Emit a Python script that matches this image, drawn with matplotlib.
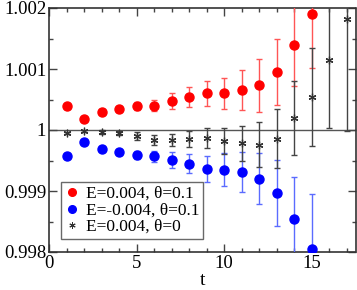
import numpy as np
import matplotlib
matplotlib.use('Agg')
import matplotlib.pyplot as plt
from matplotlib.lines import Line2D
from matplotlib.ticker import MultipleLocator, FixedFormatter, FixedLocator

# data
t_red = [1, 2, 3, 4, 5, 6, 7, 8, 9, 10, 11, 12, 13, 14, 15]
y_red = [1.00039, 1.00018, 1.00030, 1.00035, 1.00039, 1.00040, 1.00047, 1.00054,
         1.00060, 1.00060, 1.00065, 1.00073, 1.00095, 1.00140, 1.00190]
e_red = [0.00004, 0.00004, 0.00004, 0.00005, 0.00007, 0.00009, 0.00013, 0.00016,
         0.00021, 0.00026, 0.00033, 0.00043, 0.00054, 0.00068, 0.00089]

t_blue = [1, 2, 3, 4, 5, 6, 7, 8, 9, 10, 11, 12, 13, 14, 15]
y_blue = [0.99958, 0.99981, 0.99969, 0.99964, 0.99959, 0.99957, 0.99951, 0.99945,
          0.99936, 0.99935, 0.99931, 0.99920, 0.99897, 0.99854, 0.99805]
e_blue = [0.00004, 0.00004, 0.00004, 0.00005, 0.00007, 0.00009, 0.00013, 0.00016,
          0.00021, 0.00027, 0.00033, 0.00042, 0.00054, 0.00069, 0.00090]

t_star = [1, 2, 3, 4, 5, 6, 7, 8, 9, 10, 11, 12, 13, 14, 15, 16, 17]
y_star = [0.99995, 0.99998, 0.99997, 0.99995, 0.99990, 0.99984, 0.99983, 0.99985,
          0.99987, 0.99982, 0.99978, 0.99976, 0.99986, 1.00020, 1.00054, 1.00114, 1.00182]
e_star = [0.00002, 0.00002, 0.00003, 0.00004, 0.00006, 0.00008, 0.00010, 0.00013,
          0.00016, 0.00022, 0.00029, 0.00037, 0.00049, 0.00061, 0.00081, 0.00110, 0.00184]

labels = ['E=0.004, \u03b8=0.1', 'E=-0.004, \u03b8=0.1', 'E=0.004, \u03b8=0']

plt.rcParams['font.family'] = ['Liberation Serif', 'DejaVu Serif']

fig = plt.figure(figsize=(3.57, 2.90), dpi=100)
ax = fig.add_axes([49/357, 1 - 252/290, (355.5 - 49)/357, (252 - 8)/290])

ax.axhline(1.0, color='#555555', lw=1.0, zorder=1)

star = (6, 2, 0)
ax.errorbar(t_red, y_red, yerr=e_red, fmt='o', color='red', ecolor='#ff5555',
            ms=6.5, elinewidth=1.0, capsize=2.5, capthick=1.0, zorder=3)
ax.errorbar(t_blue, y_blue, yerr=e_blue, fmt='o', color='blue', ecolor='#5b6bff',
            ms=6.5, elinewidth=1.0, capsize=2.5, capthick=1.0, zorder=3)
ax.errorbar(t_star, y_star, yerr=e_star, fmt='none', ecolor='#444444',
            elinewidth=1.0, capsize=2.5, capthick=1.0, zorder=3)
ax.plot(t_star, y_star, ls='none', marker=star, color='#333333', ms=5.5, mew=0.9, zorder=4)

ax.set_xlim(0, 17.5)
ax.set_ylim(0.998, 1.002)
ax.xaxis.set_major_locator(MultipleLocator(5))
ax.xaxis.set_minor_locator(MultipleLocator(1))
ax.yaxis.set_major_locator(FixedLocator([0.998, 0.999, 1.0, 1.001, 1.002]))
ax.yaxis.set_major_formatter(FixedFormatter(['0.998', '0.999', '1', '1.001', '1.002']))
ax.yaxis.set_minor_locator(MultipleLocator(0.0005))
ax.tick_params(which='both', direction='in', top=True, right=True, width=1.0,
               color='#444444', labelsize=13.5, pad=2)
ax.tick_params(which='major', length=6)
ax.tick_params(which='minor', length=3)
for s in ax.spines.values():
    s.set_linewidth(1.2)
    s.set_color('#333333')

ax.set_xlabel('t', fontsize=14, labelpad=0)

handles = [Line2D([], [], ls='none', marker='o', color='red', ms=5.5),
           Line2D([], [], ls='none', marker='o', color='blue', ms=5.5),
           Line2D([], [], ls='none', marker=star, color='#333333', ms=4.5, mew=0.7)]
leg = ax.legend(handles, labels, loc='lower left', bbox_to_anchor=(0.04, 0.055),
                fontsize=12.5, frameon=True, fancybox=False, edgecolor='#444444',
                handlelength=0.8, handletextpad=0.4, borderpad=0.2, labelspacing=0.02,
                borderaxespad=0)
leg.get_frame().set_linewidth(1.0)

fig.savefig('out.png', dpi=100)
